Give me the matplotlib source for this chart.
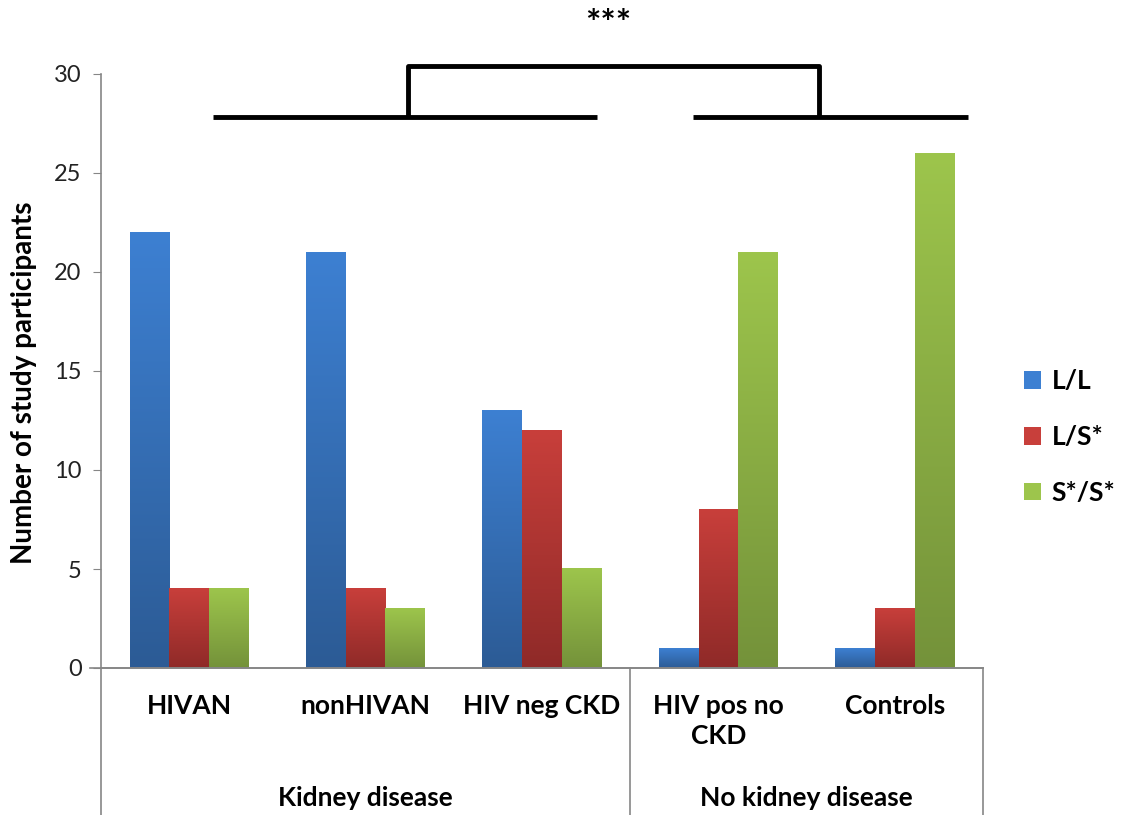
import numpy as np
import matplotlib
matplotlib.use('Agg')
import matplotlib.pyplot as plt
from matplotlib.colors import LinearSegmentedColormap
from matplotlib.patches import Patch

plt.rcParams['font.family'] = ['Lato', 'DejaVu Sans']

categories = ['HIVAN', 'nonHIVAN', 'HIV neg CKD', 'HIV pos no\nCKD', 'Controls']
groups = ['Kidney disease', 'No kidney disease']
group_sizes = [3, 2]
genotypes = ['L/L', 'L/S*', 'S*/S*']
ll = [22, 21, 13, 1, 1]
ls = [4, 4, 12, 8, 3]
ss = [4, 3, 5, 21, 26]
yticks = [0, 5, 10, 15, 20, 25, 30]

# top / bottom colours of each gradient fill
shades = [('#3d80d2', '#2c5b95'), ('#c83f3b', '#8f2a28'), ('#9dc54c', '#74923a')]

fig = plt.figure(figsize=(11.33, 8.15), dpi=100)
ax = fig.add_axes([101 / 1133, 147 / 815, 882 / 1133, 594 / 815])

bw = 0.225
grad = np.linspace(1, 0, 256).reshape(-1, 1)
for k, vals in enumerate([ll, ls, ss]):
    cmap = LinearSegmentedColormap.from_list('g%d' % k, [shades[k][1], shades[k][0]])
    for i, v in enumerate(vals):
        x0 = i + 0.5 + (k - 1.5) * bw
        ax.imshow(grad, extent=[x0, x0 + bw, 0, v], aspect='auto', cmap=cmap,
                  vmin=0, vmax=1, zorder=2)

ax.set_xlim(0, 5)
ax.set_ylim(0, 30)
ax.set_yticks(yticks)
ax.set_xticks([])
for s in ['top', 'right']:
    ax.spines[s].set_visible(False)
for s in ['left', 'bottom']:
    ax.spines[s].set_color('#868686')
    ax.spines[s].set_linewidth(1.2)
ax.tick_params(axis='y', direction='out', length=6, color='#868686',
               labelsize=17, labelcolor='#222222', pad=8)
ax.set_ylabel('Number of study participants', fontsize=20, fontweight='bold')
ax.yaxis.set_label_coords(-64 / 882, 0.48)

# two-level category axis underneath
tr = ax.get_xaxis_transform()
low = -147 / 594
ax.plot([-0.06, 5], [0, 0], color='#868686', lw=1.2, transform=tr, clip_on=False)
ax.plot([0, 0], [0, low], color='#868686', lw=1.2, transform=tr, clip_on=False)
edge = 0
for g, n in zip(groups, group_sizes):
    edge += n
    ax.plot([edge, edge], [0, low], color='#868686', lw=1.2, transform=tr, clip_on=False)
    ax.text(edge - n / 2, -130 / 594, g, transform=tr, ha='center', va='center',
            fontsize=19, fontweight='bold')
for i, c in enumerate(categories):
    ax.text(i + 0.5, -26 / 594, c, transform=tr, ha='center', va='top',
            fontsize=19, fontweight='bold', linespacing=1.3)

# significance bracket
bk = dict(color='black', lw=3.5, clip_on=False, solid_capstyle='butt')
ax.plot([0.635, 2.81], [27.83, 27.83], **bk)
ax.plot([3.356, 4.915], [27.83, 27.83], **bk)
ax.plot([1.74, 1.74, 4.07, 4.07], [27.83, 30.4, 30.4, 27.83], **bk)
ax.text(2.875, 32.5, '***', ha='center', va='center', fontsize=26, fontweight='bold',
        clip_on=False)

handles = [Patch(facecolor=shades[k][0], edgecolor='none') for k in range(3)]
fig.legend(handles, genotypes, loc='center left', bbox_to_anchor=(1024 / 1133, 378 / 815),
           frameon=False, prop={'size': 19, 'weight': 'bold'}, handlelength=0.65,
           handleheight=0.65, labelspacing=1.2, handletextpad=0.4, borderpad=0,
           borderaxespad=0)

fig.savefig('out.png', dpi=100)
